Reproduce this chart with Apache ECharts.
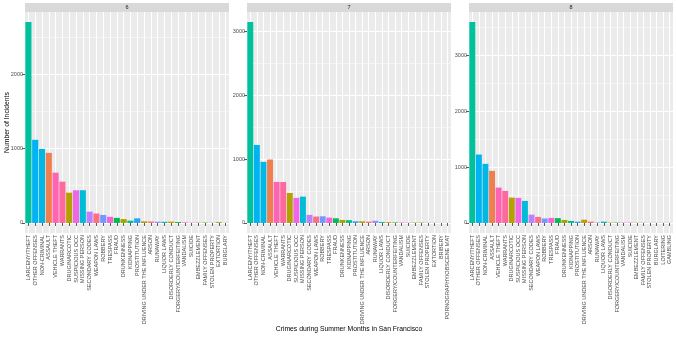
<!DOCTYPE html>
<html>
<head>
<meta charset="utf-8">
<script src="https://cdn.jsdelivr.net/npm/echarts@6/dist/echarts.min.js"></script>
<style>
html,body{margin:0;padding:0;background:#fff;}
#chart{width:676px;height:338px;}
</style>
</head>
<body>
<div id="chart"></div>
<script>
// ---- data ----
const panelNames = ['6', '7', '8'];

const cats6 = ['LARCENY/THEFT','OTHER OFFENSES','NON-CRIMINAL','ASSAULT','VEHICLE THEFT','WARRANTS','DRUG/NARCOTIC','SUSPICIOUS OCC','MISSING PERSON','SECONDARY CODES','WEAPON LAWS','ROBBERY','TRESPASS','FRAUD','DRUNKENNESS','KIDNAPPING','PROSTITUTION','DRIVING UNDER THE INFLUENCE','ARSON','RUNAWAY','LIQUOR LAWS','DISORDERLY CONDUCT','FORGERY/COUNTERFEITING','VANDALISM','SUICIDE','EMBEZZLEMENT','FAMILY OFFENSES','STOLEN PROPERTY','EXTORTION','BURGLARY'];
const vals6 = [2700,1117,995,942,676,555,407,439,440,152,127,108,83,68,52,31,62,22,20,17,16,18,12,8,4,4,5,3,10,2];

const cats7 = ['LARCENY/THEFT','OTHER OFFENSES','NON-CRIMINAL','ASSAULT','VEHICLE THEFT','WARRANTS','DRUG/NARCOTIC','SUSPICIOUS OCC','MISSING PERSON','SECONDARY CODES','WEAPON LAWS','ROBBERY','TRESPASS','FRAUD','DRUNKENNESS','KIDNAPPING','PROSTITUTION','DRIVING UNDER THE INFLUENCE','ARSON','RUNAWAY','LIQUOR LAWS','DISORDERLY CONDUCT','FORGERY/COUNTERFEITING','VANDALISM','SUICIDE','EMBEZZLEMENT','FAMILY OFFENSES','STOLEN PROPERTY','EXTORTION','BRIBERY','PORNOGRAPHY/OBSCENE MAT'];
const vals7 = [3150,1222,958,995,644,642,470,393,413,127,100,104,84,73,47,44,26,26,21,35,16,12,7,6,5,6,5,3,2,1,1];

const cats8 = ['LARCENY/THEFT','OTHER OFFENSES','NON-CRIMINAL','ASSAULT','VEHICLE THEFT','WARRANTS','DRUG/NARCOTIC','SUSPICIOUS OCC','MISSING PERSON','SECONDARY CODES','WEAPON LAWS','ROBBERY','TRESPASS','FRAUD','DRUNKENNESS','KIDNAPPING','PROSTITUTION','DRIVING UNDER THE INFLUENCE','ARSON','RUNAWAY','LIQUOR LAWS','DISORDERLY CONDUCT','FORGERY/COUNTERFEITING','VANDALISM','SUICIDE','EMBEZZLEMENT','FAMILY OFFENSES','STOLEN PROPERTY','BURGLARY','LOITERING','GAMBLING'];
const vals8 = [3600,1226,1059,934,634,574,454,449,395,149,108,80,90,86,54,36,24,58,24,8,24,7,6,6,6,3,3,2,2,2,1];

const majorTicks6 = [0,1000,2000];
const majorTicks7 = [0,1000,2000,3000];
const majorTicks8 = [0,1000,2000,3000];
const minorTicks6 = [500,1500,2500];
const minorTicks7 = [500,1500,2500];
const minorTicks8 = [500,1500,2500,3500];

const xTitle = 'Crimes during Summer Months in San Francisco';
const yTitle = 'Number of Incidents';

// ---- palette: ggplot2 hue palette over all crime categories (alphabetical) ----
function hcl(h, c, l) {
  const hr = h * Math.PI / 180;
  const U = c * Math.cos(hr), V = c * Math.sin(hr);
  const Xn = 95.047, Yn = 100, Zn = 108.883;
  const Y = Yn * (l > 8 ? Math.pow((l + 16) / 116, 3) : l / 903.3);
  const den = Xn + 15 * Yn + 3 * Zn;
  const un = 4 * Xn / den, vn = 9 * Yn / den;
  const u = U / (13 * l) + un, v = V / (13 * l) + vn;
  const X = 9 * Y * u / (4 * v);
  const Z = Y * (12 - 3 * u - 20 * v) / (4 * v);
  const x = X / 100, y = Y / 100, z = Z / 100;
  let r = 3.2404542 * x - 1.5371385 * y - 0.4985314 * z;
  let g = -0.9692660 * x + 1.8760108 * y + 0.0415560 * z;
  let b = 0.0556434 * x - 0.2040259 * y + 1.0572252 * z;
  const gam = t => { t = t <= 0.0031308 ? 12.92 * t : 1.055 * Math.pow(t, 1 / 2.4) - 0.055; return Math.round(Math.min(1, Math.max(0, t)) * 255); };
  return 'rgb(' + gam(r) + ',' + gam(g) + ',' + gam(b) + ')';
}
const allCats = Array.from(new Set(cats6.concat(cats7, cats8))).sort();
const colorMap = {};
allCats.forEach((c, i) => { colorMap[c] = hcl(15 + i * 360 / allCats.length, 100, 65); });

// ---- layout ----
const panels = [
  { cats: cats6, vals: vals6, major: majorTicks6, minor: minorTicks6 },
  { cats: cats7, vals: vals7, major: majorTicks7, minor: minorTicks7 },
  { cats: cats8, vals: vals8, major: majorTicks8, minor: minorTicks8 }
];
const panelLefts = [25, 247, 469];
const panelW = 204, panelTop = 12, panelH = 221;
const font = 'Liberation Sans, Arial, sans-serif';

const gridList = [], xAxisList = [], yAxisList = [], seriesList = [], graphicList = [];
panels.forEach((p, i) => {
  const vmax = Math.max.apply(null, p.vals);
  const lo = -0.05 * vmax, hi = 1.05 * vmax;
  gridList.push({ left: panelLefts[i], top: panelTop, width: panelW, height: panelH, show: true, backgroundColor: '#EBEBEB', borderWidth: 0, containLabel: false, outerBoundsMode: 'none' });
  xAxisList.push({
    gridIndex: i, type: 'category', data: p.cats,
    axisLine: { show: false },
    axisTick: { show: true, alignWithLabel: true, interval: 0, length: 3, lineStyle: { color: '#333333', width: 0.8 } },
    axisLabel: { interval: 0, rotate: 90, fontSize: 5.5, fontFamily: font, color: '#4D4D4D', margin: 2 },
    splitLine: { show: true, interval: 0, alignWithLabel: true, lineStyle: { color: '#FFFFFF', width: 1 } }
  });
  yAxisList.push({
    gridIndex: i, type: 'value', min: lo, max: hi,
    axisLine: { show: false },
    axisTick: { show: true, length: 3, customValues: p.major, lineStyle: { color: '#333333', width: 0.8 } },
    axisLabel: { customValues: p.major, formatter: v => String(Math.round(v)), fontSize: 5.5, fontFamily: font, color: '#4D4D4D', margin: 2 },
    splitLine: { show: true, lineStyle: { color: '#FFFFFF', width: 1 } }
  });
  yAxisList.push({
    gridIndex: i, type: 'value', min: lo, max: hi, position: 'left',
    axisLine: { show: false },
    axisTick: { show: false, customValues: p.minor },
    axisLabel: { show: false, customValues: p.minor },
    splitLine: { show: true, lineStyle: { color: '#FFFFFF', width: 0.5 } }
  });
  seriesList.push({
    type: 'bar', xAxisIndex: i, yAxisIndex: i * 2,
    data: p.vals,
    barWidth: '90%',
    itemStyle: { color: params => colorMap[params.name] }
  });
  graphicList.push({ type: 'rect', left: panelLefts[i], top: 3, shape: { width: panelW, height: 9 }, style: { fill: '#D9D9D9' }, silent: true });
  graphicList.push({ type: 'text', x: panelLefts[i] + panelW / 2, y: 7.7, style: { text: panelNames[i], fill: '#1A1A1A', fontSize: 5.5, fontFamily: font, align: 'center', verticalAlign: 'middle' }, silent: true });
});
graphicList.push({ type: 'text', x: (panelLefts[0] + panelLefts[2] + panelW) / 2, y: 329, style: { text: xTitle, fill: '#000000', fontSize: 6.8, fontFamily: font, align: 'center', verticalAlign: 'middle' }, silent: true });
graphicList.push({ type: 'text', x: 7, y: panelTop + panelH / 2, rotation: Math.PI / 2, style: { text: yTitle, fill: '#000000', fontSize: 6.8, fontFamily: font, align: 'center', verticalAlign: 'middle' }, silent: true });

const chart = echarts.init(document.getElementById('chart'), null, { renderer: 'canvas' });
chart.setOption({
  animation: false,
  backgroundColor: '#FFFFFF',
  grid: gridList, xAxis: xAxisList, yAxis: yAxisList, series: seriesList, graphic: graphicList
});
</script>
</body>
</html>
